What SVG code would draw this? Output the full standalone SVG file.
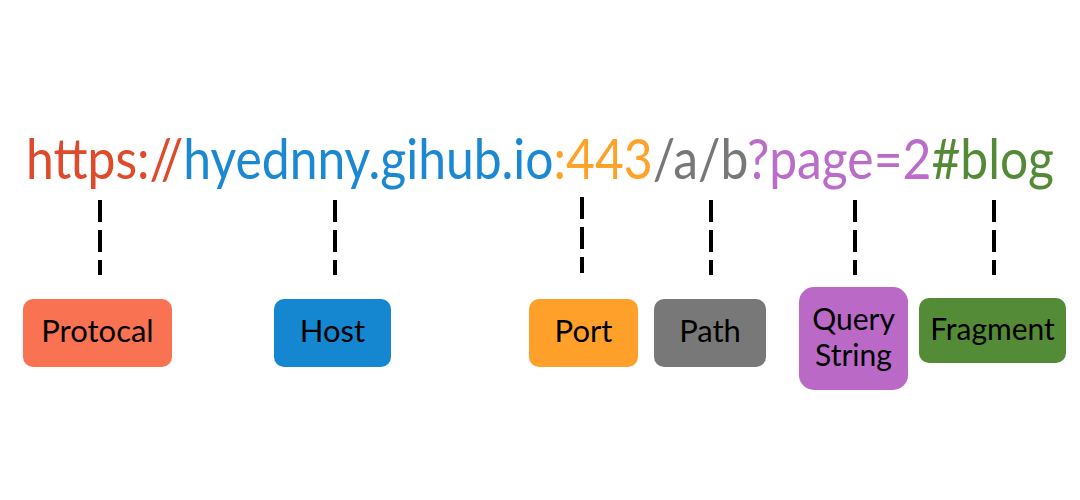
<svg xmlns="http://www.w3.org/2000/svg" width="1080" height="500" viewBox="0 0 1080 500">
<style>
.url{font-family:Lato,"Noto Sans",sans-serif;font-size:57px}
.lbl{font-family:Lato,"Noto Sans",sans-serif;font-size:31px;fill:#000;text-anchor:middle}
.sm{font-size:30px}
.dash{stroke:#000;stroke-width:4;stroke-dasharray:22 8;fill:none}
</style>
<rect width="1080" height="500" fill="#fff"/>
<g id="url">
<text class="url" x="26" y="179" textLength="1028" lengthAdjust="spacingAndGlyphs"><tspan fill="#DF4A2A">https://</tspan><tspan fill="#1A88D2">hyednny.gihub.io</tspan><tspan fill="#FFA229">:443</tspan><tspan fill="#777777">/a/b</tspan><tspan fill="#BB6BC9">?page=2</tspan><tspan fill="#548A36">#blog</tspan></text>
</g>
<g id="connectors">
<line class="dash" x1="100" y1="200" x2="100" y2="275"/>
<line class="dash" x1="335" y1="200" x2="335" y2="275"/>
<line class="dash" x1="582" y1="197" x2="582" y2="273"/>
<line class="dash" x1="711" y1="200" x2="711" y2="275"/>
<line class="dash" x1="855" y1="200" x2="855" y2="275"/>
<line class="dash" x1="994" y1="200" x2="994" y2="275"/>
</g>
<g id="protocal">
<rect x="23" y="299" width="149" height="68" rx="10" fill="#F97352"/>
<text class="lbl" x="97.5" y="342">Protocal</text>
</g>
<g id="host">
<rect x="274" y="299" width="117" height="68" rx="10" fill="#1487D0"/>
<text class="lbl" x="332.5" y="342">Host</text>
</g>
<g id="port">
<rect x="529" y="299" width="109" height="68" rx="10" fill="#FFA02A"/>
<text class="lbl" x="583.5" y="342">Port</text>
</g>
<g id="path">
<rect x="654" y="299" width="112" height="68" rx="10" fill="#787878"/>
<text class="lbl" x="710" y="342">Path</text>
</g>
<g id="query-string">
<rect x="799" y="287" width="109" height="103" rx="15" fill="#BA6AC6"/>
<text class="lbl sm" x="853.5" y="330">Query</text>
<text class="lbl sm" x="853.5" y="366">String</text>
</g>
<g id="fragment">
<rect x="919" y="298" width="147" height="65" rx="10" fill="#548B36"/>
<text class="lbl sm" x="992.5" y="340">Fragment</text>
</g>
</svg>
